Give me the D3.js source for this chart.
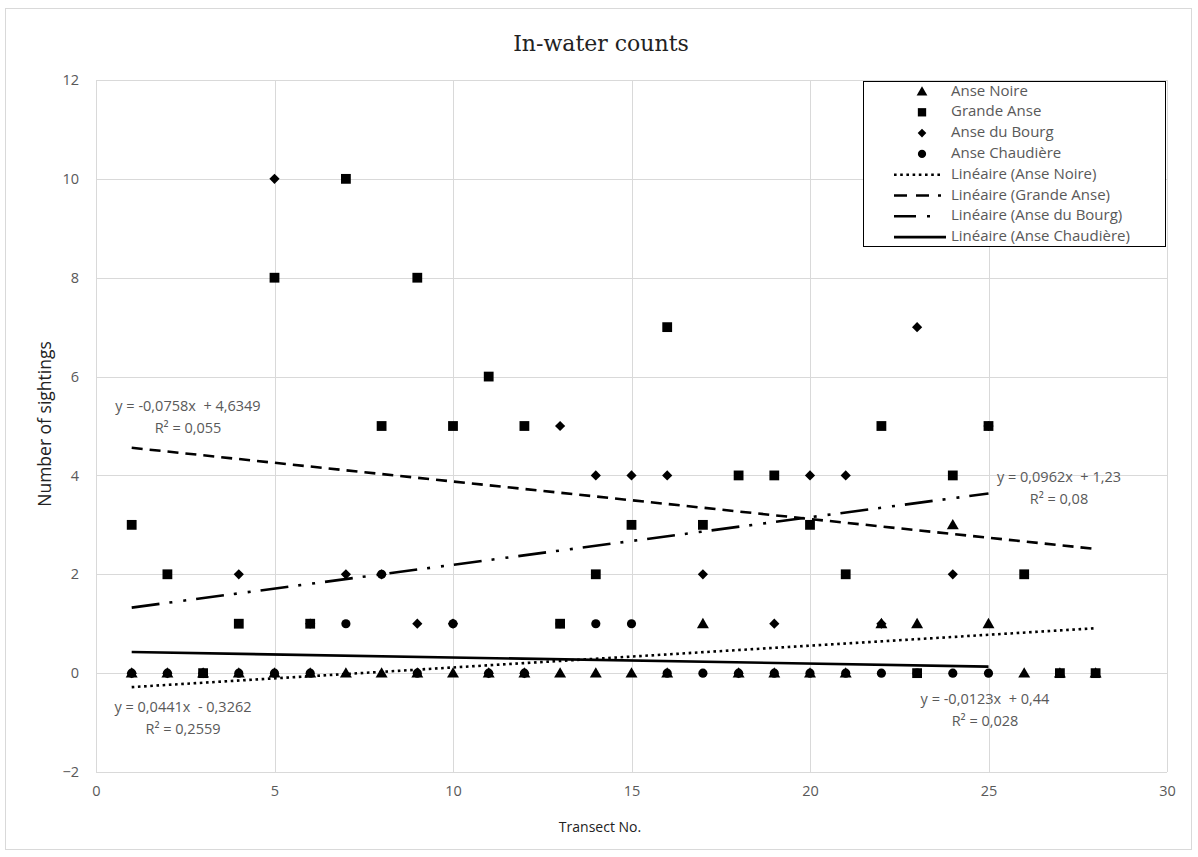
<!DOCTYPE html>
<html>
<head>
<meta charset="utf-8">
<script src="https://cdn.jsdelivr.net/npm/d3@7/dist/d3.min.js"></script>
<style>
  html, body { margin: 0; padding: 0; background: #fff; }
  svg { display: block; }
</style>
</head>
<body>
<svg id="chart" width="1198" height="857"></svg>
<script>
// ---- Data ----
const transectsNoire = d3.range(1, 29);
const anseNoire = [0,0,0,0,0,0,0,0,0,0,0,0,0,0,0,0,1,0,0,0,0,1,1,3,1,0,0,0];
const transectsGrande = d3.range(1, 29);
const grandeAnse = [3,2,0,1,8,1,10,5,8,5,6,5,1,2,3,7,3,4,4,3,2,5,0,4,5,2,0,0];
const transectsBourg = d3.range(1, 26);
const anseDuBourg = [0,0,0,2,10,1,2,2,1,1,0,0,5,4,4,4,2,0,1,4,4,1,7,2,5];
const transectsChaud = d3.range(1, 26);
const anseChaudiere = [0,0,0,0,0,0,1,2,0,1,0,0,1,1,1,0,0,0,0,0,0,0,0,0,0];

const seriesNames = ["Anse Noire", "Grande Anse", "Anse du Bourg", "Anse Chaudière"];
// trendline coefficients [slope, intercept] as displayed on the chart
const trendSlopes = [0.0441, -0.0758, 0.0962, -0.0123];
const trendIntercepts = [-0.3262, 4.6349, 1.23, 0.44];
const trendRanges = [[1, 28], [1, 28], [1, 25], [1, 25]];
const trendEqLabels = ["y = 0,0441x  - 0,3262", "y = -0,0758x  + 4,6349", "y = 0,0962x  + 1,23", "y = -0,0123x  + 0,44"];
const trendR2Labels = ["R² = 0,2559", "R² = 0,055", "R² = 0,08", "R² = 0,028"];

const xTicks = [0, 5, 10, 15, 20, 25, 30];
const yTicks = [-2, 0, 2, 4, 6, 8, 10, 12];

// ---- Layout ----
const svg = d3.select("#chart");
const grey = "#595959";
const gridCol = "#d9d9d9";
const font = "'Open Sans', 'Noto Sans', sans-serif";

const x = d3.scaleLinear().domain([0, 30]).range([96, 1167]);
const y = d3.scaleLinear().domain([-2, 12]).range([772, 80]);

// outer chart border
svg.append("rect").attr("x", 5.5).attr("y", 8.5).attr("width", 1186).attr("height", 841)
  .attr("fill", "#fff").attr("stroke", gridCol).attr("stroke-width", 1);

// gridlines
const grid = svg.append("g");
grid.selectAll("line.h").data(yTicks).join("line")
  .attr("x1", x(0)).attr("x2", x(30))
  .attr("y1", d => Math.round(y(d)) + 0.5).attr("y2", d => Math.round(y(d)) + 0.5)
  .attr("stroke", gridCol).attr("stroke-width", 1);
grid.selectAll("line.v").data(xTicks).join("line")
  .attr("y1", y(12)).attr("y2", y(-2))
  .attr("x1", d => Math.round(x(d)) + 0.5).attr("x2", d => Math.round(x(d)) + 0.5)
  .attr("stroke", gridCol).attr("stroke-width", 1);

// axes (labels only)
const yAxis = d3.axisLeft(y).tickValues(yTicks).tickSize(0).tickPadding(17);
const gy = svg.append("g").attr("transform", `translate(${x(0)},0)`).call(yAxis);
gy.select(".domain").remove();
gy.selectAll("text").attr("fill", grey).style("font-family", font).style("font-size", "14.5px");

const xAxis = d3.axisBottom(x).tickValues(xTicks).tickSize(0).tickPadding(14);
const gx = svg.append("g").attr("transform", `translate(0,${y(-2)})`).call(xAxis);
gx.select(".domain").remove();
gx.selectAll("text").attr("fill", grey).style("font-family", font).style("font-size", "14.5px");

// title
svg.append("text").attr("x", 601).attr("y", 51).attr("text-anchor", "middle")
  .style("font-family", "'DejaVu Serif', serif").style("font-size", "22px").attr("fill", "#222")
  .text("In-water counts");

// axis titles
svg.append("text").attr("x", 600).attr("y", 832).attr("text-anchor", "middle")
  .style("font-family", font).style("font-size", "14px").attr("fill", "#222")
  .text("Transect No.");
svg.append("text").attr("transform", "translate(51,424) rotate(-90)").attr("text-anchor", "middle")
  .style("font-family", font).style("font-size", "17.5px").attr("fill", "#222")
  .text("Number of sightings");

// ---- Trendlines ----
const dashes = ["2.6,3.6", "11,7", "28,10,3,11,3,10", null];
const plot = svg.append("g");
trendSlopes.forEach((m, i) => {
  const [a, b] = trendRanges[i];
  const pts = [a, b].map(t => [t, m * t + trendIntercepts[i]]);
  plot.append("path")
    .attr("d", d3.line().x(d => x(d[0])).y(d => y(d[1]))(pts))
    .attr("fill", "none").attr("stroke", "#000")
    .attr("stroke-width", 2.6)
    .attr("stroke-dasharray", dashes[i]);
});

// ---- Markers ----
function symbolFor(i) {
  if (i === 0) return d3.symbol(d3.symbolTriangle, 62)();
  if (i === 1) return d3.symbol(d3.symbolSquare, 96)();
  if (i === 2) return d3.symbol(d3.symbolSquare, 52)();
  return d3.symbol(d3.symbolCircle, 66)();
}
const seriesX = [transectsNoire, transectsGrande, transectsBourg, transectsChaud];
const seriesY = [anseNoire, grandeAnse, anseDuBourg, anseChaudiere];
seriesY.forEach((vals, i) => {
  const data = vals.map((v, k) => [seriesX[i][k], v]);
  plot.append("g").selectAll("path").data(data).join("path")
    .attr("d", symbolFor(i))
    .attr("transform", d => `translate(${x(d[0])},${y(d[1]) + (i === 0 ? 1 : 0)})` + (i === 2 ? " rotate(45)" : ""))
    .attr("fill", "#000");
});

// ---- Trendline equation labels ----
const eqPos = [[183, 708], [188, 407], [1059, 478], [985, 700]];
eqPos.forEach((p, i) => {
  svg.append("text").attr("x", p[0]).attr("y", p[1]).attr("text-anchor", "middle")
    .attr("dominant-baseline", "middle")
    .style("font-family", font).style("font-size", "14.5px").attr("fill", grey)
    .style("white-space", "pre").text(trendEqLabels[i]);
  svg.append("text").attr("x", p[0]).attr("y", p[1] + 22).attr("text-anchor", "middle")
    .attr("dominant-baseline", "middle")
    .style("font-family", font).style("font-size", "14.5px").attr("fill", grey)
    .text(trendR2Labels[i]);
});

// ---- Legend ----
const lg = svg.append("g");
lg.append("rect").attr("x", 863.5).attr("y", 81.5).attr("width", 302).attr("height", 165)
  .attr("fill", "#fff").attr("stroke", "#000").attr("stroke-width", 1);
const legendLabels = seriesNames.concat(seriesNames.map(n => `Linéaire (${n})`));
const rowY = d3.range(8).map(k => 91.5 + k * 20.8);
legendLabels.forEach((lab, k) => {
  const yy = rowY[k];
  if (k < 4) {
    lg.append("path").attr("d", symbolFor(k))
      .attr("transform", `translate(922,${yy + (k === 0 ? 1 : 0)})` + (k === 2 ? " rotate(45) scale(0.85)" : (k === 1 ? " scale(0.85)" : " scale(0.9)")))
      .attr("fill", "#000");
  } else {
    const i = k - 4;
    const x1 = 894, x2 = i === 3 ? 946 : 941;
    let da = dashes[i];
    if (i === 1) da = "13,9";
    if (i === 2) da = "22,11,3,20";
    lg.append("line").attr("x1", x1).attr("x2", x2).attr("y1", yy).attr("y2", yy)
      .attr("stroke", "#000").attr("stroke-width", 2.6).attr("stroke-dasharray", da);
  }
  lg.append("text").attr("x", 951).attr("y", yy).attr("dominant-baseline", "middle")
    .style("font-family", font).style("font-size", "15px").attr("fill", grey)
    .text(lab);
});
</script>
</body>
</html>
